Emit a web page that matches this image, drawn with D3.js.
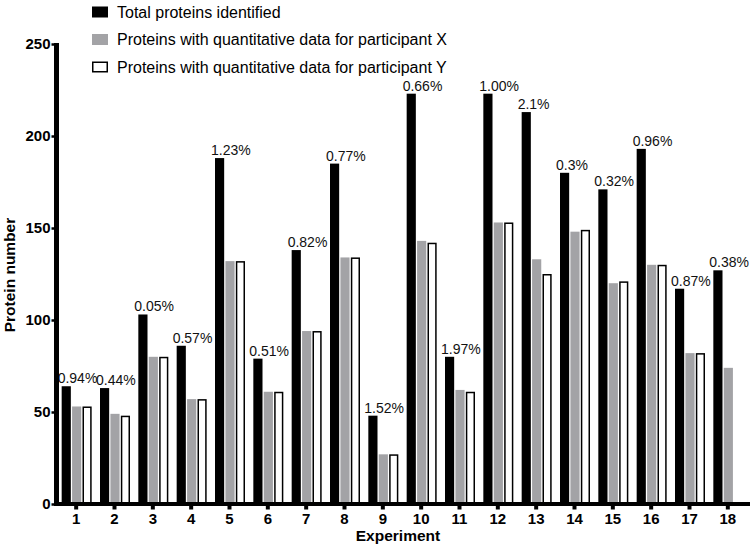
<!DOCTYPE html>
<html><head><meta charset="utf-8">
<script src="https://cdn.jsdelivr.net/npm/d3@7"></script>
<style>body{margin:0;background:#fff}svg{display:block;font-family:"Liberation Sans",Arial,sans-serif}</style>
</head><body><svg id="c" width="755" height="548"></svg>
<script>
const experiments = ["1","2","3","4","5","6","7","8","9","10","11","12","13","14","15","16","17","18"];
const totalProteins = [64,63,103,86,188,79,138,185,48,223,80,223,213,180,171,193,117,127];
const participantX = [53,49,80,57,132,61,94,134,27,143,62,153,133,148,120,130,82,74];
const participantY = [53,48,80,57,132,61,94,134,27,142,61,153,125,149,121,130,82,null];
const percentLabels = ["0.94%","0.44%","0.05%","0.57%","1.23%","0.51%","0.82%","0.77%","1.52%","0.66%","1.97%","1.00%","2.1%","0.3%","0.32%","0.96%","0.87%","0.38%"];
const yTicks = [0,50,100,150,200,250];
const seriesNames = ["Total proteins identified","Proteins with quantitative data for participant X","Proteins with quantitative data for participant Y"];
const seriesKeys = ["total","x","y"];
const seriesFill = ["#000000","#a3a3a6","#ffffff"];

const svg = d3.select("#c");
const x0 = d3.scaleBand().domain(experiments).range([57, 747]).padding(0);
const x1 = d3.scaleBand().domain(seriesKeys).range([-14.5, 15.5]).paddingInner(0.12);
const y = d3.scaleLinear().domain([0, 250]).range([504, 44]);

const rows = experiments.map((e, i) => ({e, total: totalProteins[i], x: participantX[i], y: participantY[i], label: percentLabels[i]}));

const g = svg.append("g");
rows.forEach(r => {
  const cx = x0(r.e) + x0.bandwidth() / 2;
  seriesKeys.forEach((k, j) => {
    const v = r[k];
    if (v == null) return;
    const isWhite = k === "y";
    g.append("rect")
      .attr("x", cx + x1(k) + (isWhite ? 0.75 : 0))
      .attr("y", y(v) + (isWhite ? 0.75 : 0))
      .attr("width", x1.bandwidth() - (isWhite ? 1.5 : 0))
      .attr("height", y(0) - y(v) - (isWhite ? 0.75 : 0))
      .attr("fill", seriesFill[j])
      .attr("stroke", isWhite ? "#000" : "none")
      .attr("stroke-width", 1.5);
  });
  g.append("text")
    .attr("x", cx + x1("total") - 4)
    .attr("y", y(r.total) - 3)
    .attr("font-size", 14)
    .attr("fill", "#111")
    .text(r.label);
});

// Y axis
const yAxis = d3.axisLeft(y).tickValues(yTicks).tickSize(3).tickPadding(1);
const ya = svg.append("g").attr("transform", "translate(54.5,0)").call(yAxis);
ya.select(".domain").remove();
ya.selectAll(".tick line").attr("stroke", "#000").attr("stroke-width", 2.5);
ya.selectAll(".tick text").attr("font-size", 15).attr("font-weight", "bold").attr("fill", "#000").attr("font-family", "Liberation Sans, Arial, sans-serif");
svg.append("line").attr("x1", 56.5).attr("x2", 56.5).attr("y1", y(250) - 1).attr("y2", 506).attr("stroke", "#000").attr("stroke-width", 5);

// X axis
const xAxis = d3.axisBottom(x0).tickSize(4).tickPadding(4);
const xa = svg.append("g").attr("transform", "translate(0,505.5)").call(xAxis);
xa.select(".domain").remove();
xa.selectAll(".tick line").attr("stroke", "#000").attr("stroke-width", 4);
xa.selectAll(".tick text").attr("font-size", 15).attr("font-weight", "bold").attr("fill", "#000").attr("font-family", "Liberation Sans, Arial, sans-serif");
svg.append("line").attr("x1", 54).attr("x2", 750).attr("y1", 504).attr("y2", 504).attr("stroke", "#000").attr("stroke-width", 4);

svg.append("text").attr("x", 398).attr("y", 541).attr("text-anchor", "middle")
  .attr("font-size", 15.5).attr("font-weight", "bold").text("Experiment");
svg.append("text").attr("transform", "translate(15,275) rotate(-90)").attr("text-anchor", "middle")
  .attr("font-size", 15.5).attr("font-weight", "bold").text("Protein number");

// Legend
const leg = svg.append("g");
seriesNames.forEach((n, i) => {
  const cy = 12 + i * 27.5;
  const isWhite = seriesFill[i] === "#ffffff";
  leg.append("rect").attr("x", isWhite ? 92.75 : 92).attr("y", cy - 5.5 + (isWhite ? 0.75 : 0))
    .attr("width", isWhite ? 14.5 : 16).attr("height", isWhite ? 9.5 : 11)
    .attr("fill", seriesFill[i]).attr("stroke", isWhite ? "#000" : "none").attr("stroke-width", 1.5);
  leg.append("text").attr("x", 117).attr("y", cy).attr("dy", "0.35em").attr("font-size", 16).attr("fill", "#000").text(n);
});
</script></body></html>
